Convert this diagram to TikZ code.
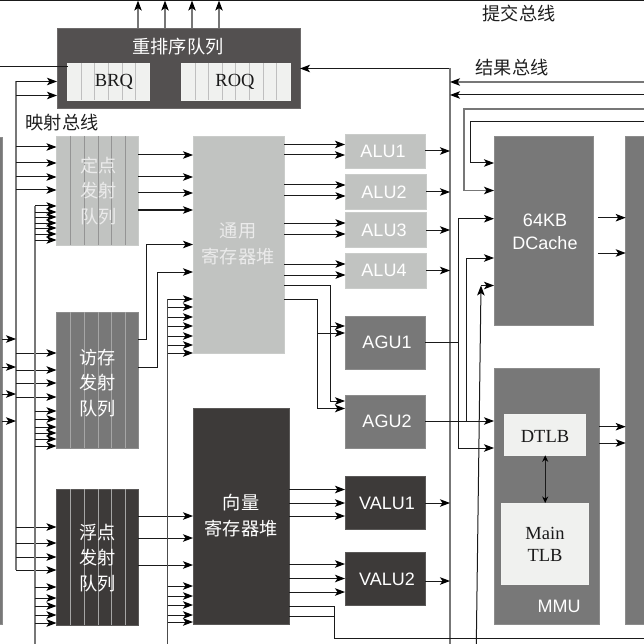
\documentclass[tikz,border=0pt]{standalone}
\usepackage{fontspec}
\setmainfont{Liberation Serif}
\setsansfont{Liberation Sans}
\newfontfamily\cjkfont{Noto Sans CJK SC}
\usetikzlibrary{arrows.meta,fit}
\definecolor{cDark}{HTML}{3D3A39}
\definecolor{cRob}{HTML}{535050}
\definecolor{cMid}{HTML}{787878}
\definecolor{cLight}{HTML}{C1C3C1}
\definecolor{cPale}{HTML}{F0F1EF}
\definecolor{cLine}{HTML}{777777}
\definecolor{cInk}{HTML}{1A1A1A}
\tikzset{
  x=1pt,y=-1pt,
  blk/.style={inner sep=0pt,outer sep=0pt,draw=#1!85!white,line width=.6pt,fill=#1},
  zh/.style={font=\cjkfont\fontsize{18.2}{25.5}\selectfont,align=center,inner sep=0pt,text=#1},
  zh/.default=white,
  en/.style={font=\sffamily\fontsize{18}{23}\selectfont,align=center,inner sep=0pt,text=#1},
  en/.default=white,
  rm/.style={font=\rmfamily\fontsize{18.5}{22}\selectfont,align=center,inner sep=0pt,text=cInk},
  ln/.style={line width=1pt,color=cInk},
  lg/.style={line width=1.2pt,color=cLine},
  arr/.style={line width=1pt,color=cInk,-{Stealth[length=10pt,width=7.5pt,inset=2.5pt,black]}},
  arg/.style={line width=1.1pt,color=cLine,-{Stealth[length=10pt,width=7.5pt,inset=2.5pt,black]}},
  dbl/.style={line width=1pt,color=cInk,{Stealth[length=6.5pt,width=6pt,black]}-{Stealth[length=6.5pt,width=6pt,black]}},
}
\newcommand{\blkn}[6]{\node[blk=#6,fit={(#2,#3)(#4,#5)}] (#1) {};}
\begin{document}
\begin{tikzpicture}
\useasboundingbox (0,0) rectangle (644,644);
\clip (0,0) rectangle (644,644);
% guide coordinates
\coordinate (edgeL) at (0,0);
\coordinate (edgeR) at (644,0);
\coordinate (edgeB) at (0,644);
\coordinate (topbus) at (0,.6);
\coordinate (busA) at (16,0);
\coordinate (busB) at (35,0);
\coordinate (busC) at (167.5,0);
\coordinate (busD) at (450,0);
\coordinate (viaA) at (146.5,0);
\coordinate (viaB) at (157,0);
\coordinate (viaC) at (330.5,0);
\coordinate (viaD) at (317,0);
\coordinate (viaE) at (334,0);
\coordinate (viaF) at (458,0);
\coordinate (viaG) at (466.3,0);
\coordinate (viaH) at (464,0);
\coordinate (viaI) at (470.3,0);
\coordinate (slantB) at (476.3,644);
\coordinate (slantT) at (481,285.5);

% blocks
\blkn{lblk}{-4}{137}{2}{624}{cMid}
\blkn{rblk}{625.7}{136}{650}{624}{cMid}
\blkn{rob}{57}{28}{300}{108}{cRob}
\blkn{brq}{67.5}{63}{149}{100}{cPale}
\blkn{roq}{181}{63}{290}{100}{cPale}
\blkn{qint}{56.5}{136}{138}{245}{cLight}
\blkn{qmem}{56.5}{312}{138}{448}{cMid}
\blkn{qfp}{56.5}{489}{138}{625}{cDark}
\blkn{reg}{193}{136}{284}{353}{cLight}
\blkn{vreg}{193}{408}{289}{624}{cDark}
\blkn{alua}{345}{134}{425}{168.5}{cLight}
\blkn{alub}{345.5}{174.5}{426}{209}{cLight}
\blkn{aluc}{345.5}{212.5}{426}{247}{cLight}
\blkn{alud}{345.5}{253}{426}{288}{cLight}
\blkn{agua}{345}{316}{425}{369}{cMid}
\blkn{agub}{345}{395}{425}{448}{cMid}
\blkn{valua}{345}{476}{425}{529}{cDark}
\blkn{valub}{345}{552}{425}{605}{cDark}
\blkn{dc}{494}{136}{593}{325.5}{cMid}
\blkn{mmu}{494}{368}{599}{624}{cMid}
\blkn{dtlb}{504.7}{414.7}{585.7}{455.3}{cPale}
\blkn{mtlb}{501.7}{503}{588.7}{584.3}{cPale}

% queue dividers
\foreach \x in {81,94.5,108,122,135}
  \draw[line width=.7pt,color=black!25] (\x,0 |- brq.north) -- (\x,0 |- brq.south);
\foreach \x in {195,208.5,222,235.5,249,263,276.5}
  \draw[line width=.7pt,color=black!25] (\x,0 |- roq.north) -- (\x,0 |- roq.south);
\foreach \x in {70,84,98,111.5,125}{
  \draw[line width=.8pt,color=black!42] (\x,0 |- qint.north) -- (\x,0 |- qint.south);
  \draw[line width=.8pt,color=black!35] (\x,0 |- qmem.north) -- (\x,0 |- qmem.south);
  \draw[line width=.8pt,color=black!35] (\x,0 |- qfp.north) -- (\x,0 |- qfp.south);
}

% block texts
\node[zh] (tRob) at (178,47) {重排序队列};
\node[rm] (tBrq) at (114,82) {BRQ};
\node[rm] (tRoq) at (235,82) {ROQ};
\node[zh=black!88] (tMap) at (62,123) {映射总线};
\node[zh=black!88] (tCom) at (519,14) {提交总线};
\node[zh=black!88] (tRes) at (512,68) {结果总线};
\node[zh=white!92!black] (tQint) at (98.5,191) {定点\\发射\\队列};
\node[zh] (tQmem) at (97.5,383) {访存\\发射\\队列};
\node[zh] (tQfp) at (97.5,558) {浮点\\发射\\队列};
\node[zh=white!92!black] (tReg) at (238,244) {通用\\寄存器堆};
\node[zh] (tVreg) at (241,515.5) {向量\\寄存器堆};
\node[en] (tAa) at (383,151) {ALU1};
\node[en] (tAb) at (384,192) {ALU2};
\node[en] (tAc) at (384,230) {ALU3};
\node[en] (tAd) at (384,270.5) {ALU4};
\node[en] (tGa) at (387,342.5) {AGU1};
\node[en] (tGb) at (387,421) {AGU2};
\node[en] (tVa) at (387,503) {VALU1};
\node[en] (tVb) at (387,579) {VALU2};
\node[en] (tDc) at (545,231.5) {64KB\hspace{6pt}\\DCache};
\node[en] (tMmu) at (559,606) {MMU};
\node[rm] (tDtlb) at (545,436) {DTLB};
\node[rm] (tMain) at (545,544) {Main\\TLB};

% top bus and commit arrows
\draw[line width=1pt,color=cInk] (edgeL |- topbus) -- (edgeR |- topbus);
\foreach \x in {138,165,192,219}
  \draw[arg] (\x,0 |- rob.north) -- (\x,0 |- topbus);

% reorder queue connections
\draw[ln] (edgeL |- 0,66.5) -- (brq.west |- 0,66.5);
\draw[arr] (busD |- 0,68.5) -- (rob.east |- 0,68.5);
\draw[lg] (busD |- 0,68.5) -- (busD |- edgeB);
\draw[arg] (edgeR |- 0,82) -- (busD |- 0,82);
\draw[arr] (edgeR |- 0,95) -- (busD |- 0,95);
\draw[arg] (edgeR |- 0,109) -- (viaH |- 0,109) -- (viaH |- 0,190.5) -- (dc.west |- 0,190.5);
\draw[arr] (edgeR |- 0,122) -- (viaI |- 0,122) -- (viaI |- 0,163) -- (dc.west |- 0,163);

% mapping bus A
\draw[lg] (busA |- 0,81.5) -- (busA |- 0,570);
\foreach \y in {81.5,95.5}
  \draw[arr] (busA |- 0,\y) -- (rob.west |- 0,\y);
\foreach \y in {147,163,177,190}
  \draw[arr] (busA |- 0,\y) -- (qint.west |- 0,\y);
\foreach \y in {353,370,383,397}
  \draw[arr] (busA |- 0,\y) -- (qmem.west |- 0,\y);
\foreach \y in {527,543,557,570}
  \draw[arr] (busA |- 0,\y) -- (qfp.west |- 0,\y);
\foreach \y in {339,367,394,421}
  \draw[arr] (lblk.east |- 0,\y) -- (busA |- 0,\y);

% result bus B
\draw[line width=1.4pt,color=cLine] (busB |- 0,206) -- (busB |- edgeB);
\foreach \y in {206,212,217,223,228,234,240}
  \draw[arr] (busB |- 0,\y) -- (qint.west |- 0,\y);
\foreach \y in {411,419,427,433,439,446}
  \draw[arr] (busB |- 0,\y) -- (qmem.west |- 0,\y);
\foreach \y in {587,598,606,615,623}
  \draw[arr] (busB |- 0,\y) -- (qfp.west |- 0,\y);

% queues to register files
\foreach \y in {155,177,193,210}
  \draw[arr] (qint.east |- 0,\y) -- (reg.west |- 0,\y);
\draw[arr] (qmem.east |- 0,339.5) -- (viaA |- 0,339.5) -- (viaA |- 0,244.5) -- (reg.west |- 0,244.5);
\draw[arr] (qmem.east |- 0,367) -- (viaB |- 0,367) -- (viaB |- 0,272) -- (reg.west |- 0,272);
\foreach \y in {516,538,565}
  \draw[arr] (qfp.east |- 0,\y) -- (vreg.west |- 0,\y);

% bus C
\draw[line width=1pt,color=black!70] (busC |- 0,299) -- (busC |- edgeB);
\foreach \y in {299,307,317,326,336,345,353}
  \draw[arr] (busC |- 0,\y) -- (reg.west |- 0,\y);
\foreach \y in {586,596,605,615,622}
  \draw[arr] (busC |- 0,\y) -- (vreg.west |- 0,\y);

% register file to units
\foreach \y in {144.5,155} \draw[arr] (reg.east |- 0,\y) -- (alua.west |- 0,\y);
\foreach \y in {185,196} \draw[arr] (reg.east |- 0,\y) -- (alub.west |- 0,\y);
\foreach \y in {223,234} \draw[arr] (reg.east |- 0,\y) -- (aluc.west |- 0,\y);
\foreach \y in {264,275} \draw[arr] (reg.east |- 0,\y) -- (alud.west |- 0,\y);
\draw[arr] (reg.east |- 0,285) -- (viaC |- 0,285) -- (viaC |- 0,401) -- (agub.west |- 0,401);
\draw[arr] (viaC |- 0,326) -- (agua.west |- 0,326);
\draw[arr] (reg.east |- 0,299) -- (viaD |- 0,299) -- (viaD |- 0,408.5) -- (agub.west |- 0,408.5);
\draw[arr] (viaD |- 0,333) -- (agua.west |- 0,333);
\foreach \y in {489.5,503,516} \draw[arr] (vreg.east |- 0,\y) -- (valua.west |- 0,\y);
\foreach \y in {564,578.5,592} \draw[arr] (vreg.east |- 0,\y) -- (valub.west |- 0,\y);
\draw[ln] (vreg.east |- 0,606) -- (viaE |- 0,606) -- (viaE |- 0,638.5) -- (edgeR |- 0,638.5);
\draw[ln] (vreg.east |- 0,616) -- (viaE |- 0,616);

% units to result bus
\draw[arr] (alua.east |- 0,151) -- (busD |- 0,151);
\draw[arr] (alub.east |- 0,192) -- (busD |- 0,192);
\draw[arr] (aluc.east |- 0,230) -- (busD |- 0,230);
\draw[arr] (alud.east |- 0,270.5) -- (busD |- 0,270.5);
\draw[arr] (valua.east |- 0,503) -- (busD |- 0,503);
\draw[arr] (valub.east |- 0,581) -- (busD |- 0,581);

% address paths
\draw[ln] (agua.east |- 0,342.5) -- (viaF |- 0,342.5);
\draw[arr] (viaF |- 0,342.5) -- (viaF |- 0,218.7) -- (dc.west |- 0,218.7);
\draw[arr] (viaF |- 0,342.5) -- (viaF |- 0,448) -- (mmu.west |- 0,448);
\draw[arr] (agub.east |- 0,421) -- (mmu.west |- 0,421);
\draw[arr] (viaG |- 0,421) -- (viaG |- 0,258) -- (dc.west |- 0,258);
\draw[arr] (slantB) -- (slantT);
\draw[arr] (slantT) -- (dc.west |- slantT);

% cache and MMU outputs
\foreach \y in {217.7,253}
  \draw[arr] ([xshift=5pt]dc.east |- 0,\y) -- (rblk.west |- 0,\y);
\foreach \y in {426.7,443}
  \draw[arr] (mmu.east |- 0,\y) -- (rblk.west |- 0,\y);
\draw[dbl] (dtlb.south) -- (mtlb.north);
\end{tikzpicture}
\end{document}
